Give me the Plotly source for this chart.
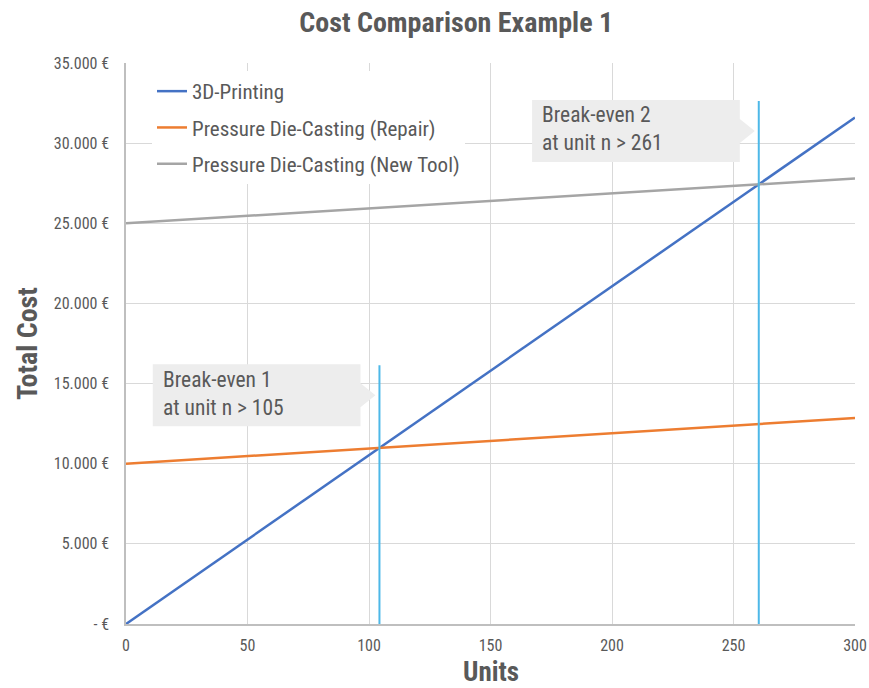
import plotly.graph_objects as go

# ---- data ----
units = [0, 300]
printing_3d = [0, 31600]
die_casting_repair = [10000, 12850]
die_casting_new_tool = [25000, 27800]

breakeven_units = [104.3, 260.4]
breakeven_marker_top = [16150, 32630]
breakeven_labels = ["Break-even 1<br>at unit n > 105", "Break-even 2<br>at unit n > 261"]

y_tick_vals = [0, 5000, 10000, 15000, 20000, 25000, 30000, 35000]
y_tick_text = ["- €", "5.000 €", "10.000 €", "15.000 €", "20.000 €", "25.000 €", "30.000 €", "35.000 €"]
x_tick_vals = [0, 50, 100, 150, 200, 250, 300]

FONT = "Roboto Condensed, Liberation Sans Narrow, Roboto, sans-serif"
TXT = "#595959"

fig = go.Figure()
fig.add_trace(go.Scatter(x=units, y=printing_3d, mode="lines", name="3D-Printing", legendgroup="a",
                         line=dict(color="#4472C4", width=2.5)))
fig.add_trace(go.Scatter(x=units, y=die_casting_repair, mode="lines", name="Pressure Die-Casting (Repair)",
                         legendgroup="b", line=dict(color="#ED7D31", width=2.5)))
fig.add_trace(go.Scatter(x=units, y=die_casting_new_tool, mode="lines", name="Pressure Die-Casting (New Tool)",
                         legendgroup="c", line=dict(color="#A5A5A5", width=2.5)))
for bx, top in zip(breakeven_units, breakeven_marker_top):
    fig.add_trace(go.Scatter(x=[bx, bx], y=[0, top], mode="lines", showlegend=False,
                             line=dict(color="#4DB8E8", width=2), hoverinfo="skip"))

# callout boxes (data coordinates), pixel scale: x 300/730 per px, y 35000/561 per px
px_x = 300 / 730
px_y = 35000 / 561
shapes = []
annotations = []
for bx, top, label in zip(breakeven_units, breakeven_marker_top, breakeven_labels):
    x1 = bx - 19 * px_x          # right edge of box
    x0 = x1 - 208 * px_x         # left edge
    xt = bx - 4 * px_x           # pointer tip
    y1 = top + 1 * px_y          # top
    y0 = y1 - 62 * px_y          # bottom
    ym = (y0 + y1) / 2
    yb1 = ym + 12 * px_y
    yb2 = ym - 12 * px_y
    path = (f"M {x0},{y0} L {x0},{y1} L {x1},{y1} L {x1},{yb1} L {xt},{ym} "
            f"L {x1},{yb2} L {x1},{y0} Z")
    shapes.append(dict(type="path", path=path, xref="x", yref="y",
                       fillcolor="#EDEDED", line=dict(width=0), layer="above"))
    annotations.append(dict(x=x0 + 8 * px_x, y=ym + 2 * px_y, xref="x", yref="y", text=label,
                            showarrow=False, xanchor="left", yanchor="middle", align="left",
                            font=dict(family=FONT, size=21.5, color=TXT)))

# x-axis title placed as a paper annotation below the tick labels
annotations.append(dict(x=0.5, y=-(672 - 624) / 561, xref="paper", yref="paper", text="<b>Units</b>",
                        showarrow=False, xanchor="center", yanchor="middle",
                        font=dict(family=FONT, size=27, color=TXT)))

fig.update_layout(
    width=869, height=688,
    margin=dict(l=126, r=14, t=63, b=64),
    paper_bgcolor="white", plot_bgcolor="white",
    font=dict(family=FONT, color=TXT),
    title=dict(text="<b>Cost Comparison Example 1</b>", x=0.525, xref="container", xanchor="center",
               y=1 - 22 / 688, yref="container", yanchor="middle",
               font=dict(family=FONT, size=28, color=TXT)),
    legend=dict(x=(152 - 126) / 729, y=1 - (71 - 63) / 561, xanchor="left", yanchor="top",
                bgcolor="white", font=dict(family=FONT, size=21, color=TXT),
                itemwidth=30, tracegroupgap=6),
    shapes=shapes,
    annotations=annotations,
    showlegend=True,
)
fig.update_xaxes(range=[0, 300], tickvals=x_tick_vals, showgrid=True, gridcolor="#D9D9D9", gridwidth=1,
                 showline=True, linecolor="#BFBFBF", linewidth=1.5, zeroline=False, automargin=False,
                 ticks="", ticklabelstandoff=6, tickfont=dict(family=FONT, size=16, color=TXT))
fig.update_yaxes(range=[0, 35000], tickvals=y_tick_vals, ticktext=y_tick_text, showgrid=True,
                 gridcolor="#D9D9D9", gridwidth=1, showline=True, linecolor="#BFBFBF", linewidth=1.5,
                 zeroline=False, automargin=False, ticks="", ticklabelstandoff=12,
                 tickfont=dict(family=FONT, size=16, color=TXT),
                 title=dict(text="<b>Total Cost</b>", font=dict(family=FONT, size=28, color=TXT), standoff=8))

fig.write_html("out.html", config={"displayModeBar": False},
               post_script="document.body.style.margin='0px';")
